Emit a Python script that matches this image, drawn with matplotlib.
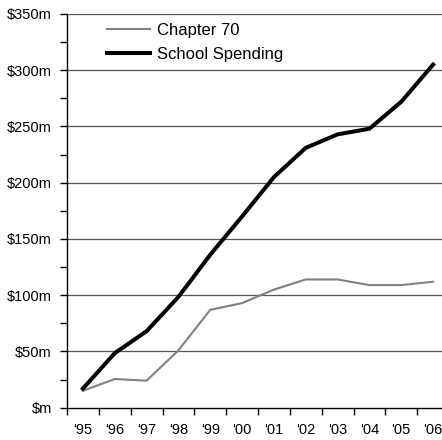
import matplotlib
matplotlib.use("Agg")
import matplotlib.pyplot as plt
from matplotlib.ticker import MultipleLocator

plt.rcParams['font.family'] = ['Liberation Sans', 'DejaVu Sans']

years = ["'95", "'96", "'97", "'98", "'99", "'00", "'01", "'02", "'03", "'04", "'05", "'06"]
chapter70 = [15, 25.5, 24, 51, 87, 93, 105, 114, 114, 109, 109, 112]
school_spending = [17, 48.5, 68, 98.5, 136, 170, 205, 231, 243, 248, 272, 305]
yticks = [0, 50, 100, 150, 200, 250, 300, 350]
ytick_labels = ['$m', '$50m', '$100m', '$150m', '$200m', '$250m', '$300m', '$350m']

fig = plt.figure(figsize=(4.42, 4.40), dpi=100)
ax = fig.add_axes([67/442, 1 - 407.7/440, 382/442, 393.7/440])

x = list(range(len(years)))
ax.plot(x, chapter70, color='#808080', lw=1.5, label='Chapter 70', zorder=3)
ax.plot(x, school_spending, color='black', lw=2.9, label='School Spending', zorder=4)

ax.set_xlim(-0.5, len(years) - 0.5)
ax.set_ylim(0, 350)
ax.set_yticks(yticks)
ax.set_yticklabels(ytick_labels)
ax.yaxis.set_minor_locator(MultipleLocator(25))
ax.set_xticks(x)
ax.set_xticklabels(years)
ax.set_xticks([i - 0.5 for i in range(len(years) + 1)], minor=True)

for v in yticks[1:]:
    ax.axhline(v, color='#555555', lw=0.9, zorder=1)

for s in ['top', 'right']:
    ax.spines[s].set_visible(False)
ax.spines['left'].set_linewidth(1.0)
ax.spines['bottom'].set_linewidth(1.0)

ax.tick_params(axis='y', which='both', direction='out', length=5, width=1, labelsize=10.5, pad=6)
ax.tick_params(axis='x', which='major', length=0, labelsize=10.5, pad=11)
ax.tick_params(axis='x', which='minor', direction='out', length=5, width=1)

leg = ax.legend(loc='upper left', bbox_to_anchor=(95/442, 1 - 11/440), bbox_transform=fig.transFigure,
                frameon=False, fontsize=12, handlelength=2.6, handletextpad=0.42,
                labelspacing=0.56, borderpad=0.2)

fig.savefig('out.png', dpi=100)
